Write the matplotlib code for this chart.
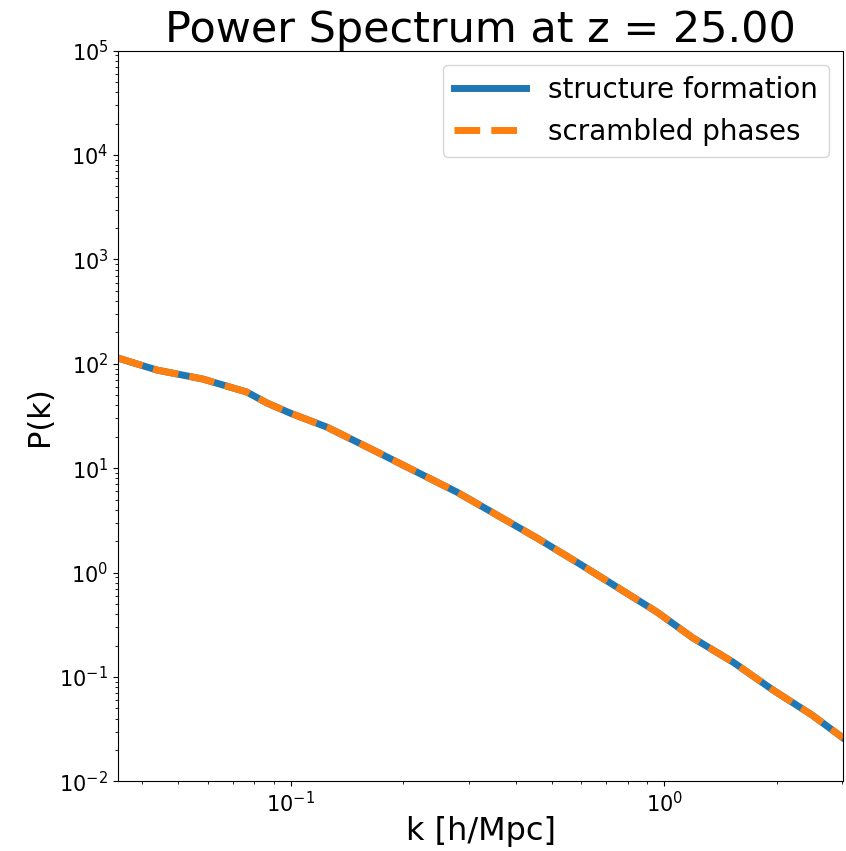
import numpy as np
import matplotlib
matplotlib.use("Agg")
import matplotlib.pyplot as plt

# k in h/Mpc and P(k)
k = [0.0345, 0.0438, 0.0582, 0.0763, 0.0864, 0.0996, 0.125, 0.166, 0.2123,
     0.2784, 0.3564, 0.4561, 0.5838, 0.7472, 0.956, 1.194, 1.529, 1.956,
     2.488, 3.012]
pk_structure = [113.6, 87.3, 71.5, 53.7, 42.2, 33.8, 24.8, 15.0, 9.63,
                5.92, 3.57, 2.15, 1.26, 0.728, 0.420, 0.237, 0.139, 0.0751,
                0.0433, 0.0261]
pk_scrambled = [113.6, 87.3, 71.5, 53.7, 42.2, 33.8, 24.8, 15.0, 9.63,
                5.92, 3.57, 2.15, 1.26, 0.728, 0.420, 0.237, 0.139, 0.0751,
                0.0433, 0.0261]
z = 25.0

fig = plt.figure(figsize=(8.46, 8.51), dpi=100)
ax = fig.add_axes([0.1395, 0.0817, 0.857, 0.8588])

ax.loglog(k, pk_structure, color='#1f77b4', lw=5, label='structure formation')
ax.loglog(k, pk_scrambled, color='#ff7f0e', lw=5, ls='--', label='scrambled phases')

ax.set_xlim(k[0], k[-1])
ax.set_ylim(1e-2, 1e5)
ax.set_xlabel("k [h/Mpc]", fontsize=23, labelpad=0)
ax.set_ylabel("P(k)", fontsize=22)
ax.set_title("Power Spectrum at z = %.2f" % z, fontsize=31, pad=4)
ax.tick_params(labelsize=15)
ax.legend(fontsize=20, loc='upper right', handlelength=2.6)

fig.savefig("out.png", dpi=100)
